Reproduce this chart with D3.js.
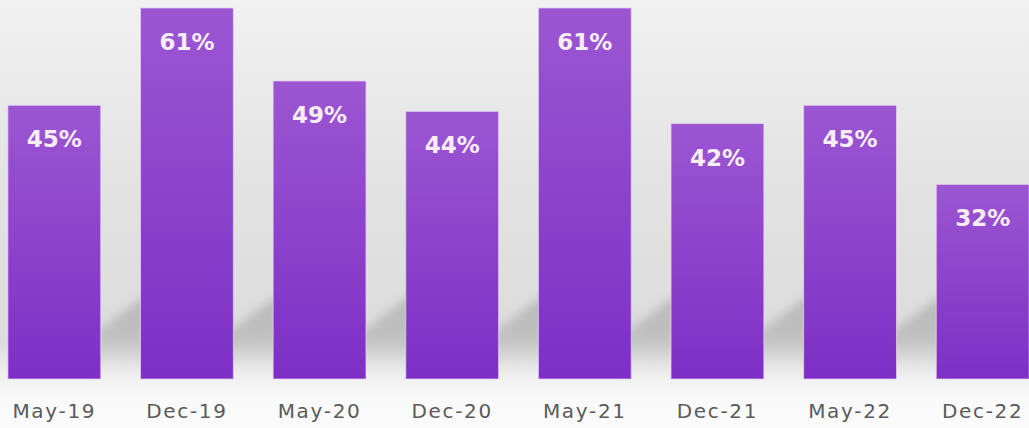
<!DOCTYPE html>
<html>
<head>
<meta charset="utf-8">
<script src="https://cdn.jsdelivr.net/npm/d3@7"></script>
<style>
  html, body { margin: 0; padding: 0; }
  body { width: 1029px; height: 428px; overflow: hidden; }
</style>
</head>
<body>
<div class="chart"></div>
<script>
const categories = ["May-19", "Dec-19", "May-20", "Dec-20", "May-21", "Dec-21", "May-22", "Dec-22"];
const values = [45, 61, 49, 44, 61, 42, 45, 32];

const width = 1029;
const height = 428;
const baseY = 379;

const svg = d3.select(".chart").append("svg")
    .attr("width", width)
    .attr("height", height)

const defs = svg.append("defs")

// background fade
const bg = defs.append("linearGradient").attr("id", "bg").attr("x1", 0).attr("y1", 0).attr("x2", 0).attr("y2", 1)
bg.append("stop").attr("offset", "0%").attr("stop-color", "#f1f1f1")
bg.append("stop").attr("offset", "45%").attr("stop-color", "#e2e2e2")
bg.append("stop").attr("offset", "80%").attr("stop-color", "#dcdcdc")
bg.append("stop").attr("offset", "87%").attr("stop-color", "#eeeeee")
bg.append("stop").attr("offset", "93%").attr("stop-color", "#f9f9f9")
bg.append("stop").attr("offset", "100%").attr("stop-color", "#fbfbfb")

const barGrad = defs.append("linearGradient").attr("id", "bar").attr("x1", 0).attr("y1", 0).attr("x2", 0).attr("y2", 1)
barGrad.append("stop").attr("offset", "0%").attr("stop-color", "#9c56d2")
barGrad.append("stop").attr("offset", "100%").attr("stop-color", "#7d2fc6")

const shadowGrad = defs.append("linearGradient").attr("id", "shade").attr("x1", 0).attr("y1", 0).attr("x2", 0).attr("y2", 1)
shadowGrad.append("stop").attr("offset", "0%").attr("stop-color", "#a8a8a8")
shadowGrad.append("stop").attr("offset", "55%").attr("stop-color", "#b6b6b6")
shadowGrad.append("stop").attr("offset", "100%").attr("stop-color", "#f2f2f2")

defs.append("filter").attr("id", "blur")
    .attr("x", "-50%").attr("y", "-50%").attr("width", "200%").attr("height", "200%")
    .append("feGaussianBlur").attr("stdDeviation", 5)

svg.append("rect")
    .attr("width", width)
    .attr("height", height)
    .attr("fill", "url(#bg)")

const x = d3.scaleBand()
    .domain(categories)
    .range([-12, 1049])
    .paddingInner(0.3)
    .paddingOuter(0.15)

const y = d3.scaleLinear()
    .domain([0, 61])
    .range([baseY, 8])

const data = categories.map((c, i) => ({ cat: c, value: values[i] }))

// soft shadows falling into the gaps
svg.append("g")
    .attr("filter", "url(#blur)")
    .attr("opacity", 0.7)
    .selectAll("path")
    .data(data)
    .join("path")
    .attr("fill", "url(#shade)")
    .attr("d", d => {
        const x0 = x(d.cat) + x.bandwidth() - 12;
        const x1 = x(d.cat) + x.bandwidth() + 48;
        return `M${x0},${baseY - 42} L${x1},${baseY - 86} L${x1},${baseY - 8} L${x0},${baseY - 4} Z`
    })

const bars = svg.append("g")
    .selectAll("g")
    .data(data)
    .join("g")

bars.append("rect")
    .attr("x", d => x(d.cat))
    .attr("y", d => y(d.value))
    .attr("width", x.bandwidth())
    .attr("height", d => baseY - y(d.value))
    .attr("fill", "url(#bar)")
    .attr("stroke", "#ead6f3")
    .attr("stroke-width", 1)
    .attr("stroke-opacity", 0.7)

bars.append("text")
    .attr("x", d => x(d.cat) + x.bandwidth() / 2)
    .attr("y", d => y(d.value) + 42)
    .attr("text-anchor", "middle")
    .style("font-family", "'DejaVu Sans', Verdana, sans-serif")
    .style("font-weight", "bold")
    .style("font-size", "23px")
    .style("fill", "#f7edf7")
    .text(d => d.value + "%")

svg.append("g")
    .selectAll("text")
    .data(categories)
    .join("text")
    .attr("x", d => x(d) + x.bandwidth() / 2)
    .attr("y", 418)
    .attr("text-anchor", "middle")
    .style("font-family", "'DejaVu Sans', Verdana, sans-serif")
    .style("font-size", "20px")
    .style("letter-spacing", "1.7px")
    .style("fill", "#5a5a5a")
    .text(d => d)
</script>
</body>
</html>
